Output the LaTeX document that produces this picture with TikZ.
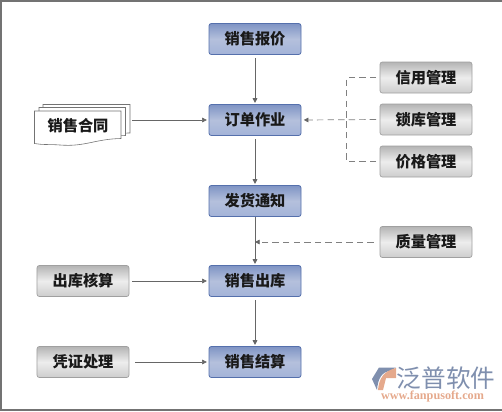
\documentclass[tikz,border=0pt]{standalone}
\usepackage{fontspec}
\usepackage{xcolor}
\usetikzlibrary{arrows.meta,positioning,calc}
\newfontfamily\cjk{Noto Sans CJK SC}
\newfontfamily\urlfont{Liberation Serif}
\definecolor{blueedge}{HTML}{5570AC}
\definecolor{bluemid}{HTML}{B4C0DC}
\definecolor{bluetop}{HTML}{7F94C4}
\definecolor{bluelow}{HTML}{A3B3D8}
\definecolor{grayedge}{HTML}{A0A0A0}
\definecolor{graytop}{HTML}{B4B4B4}
\definecolor{graymid}{HTML}{EDEDED}
\definecolor{graylow}{HTML}{CDCDCD}
\definecolor{linegray}{HTML}{666666}
\definecolor{logoblue}{HTML}{7F8FAE}
\definecolor{logoorange}{HTML}{E5A98C}
\tikzset{
  box/.style={minimum width=2.76cm, minimum height=0.93cm, inner sep=0pt, rounded corners=2pt, font=\cjk\bfseries\fontsize{13}{15}\selectfont, text=black!90},
  bluebox/.style={box, draw=blueedge, line width=0.7pt, top color=bluetop, bottom color=bluelow, middle color=bluemid},
  graybox/.style={box, draw=grayedge, line width=0.6pt, top color=graytop, bottom color=graylow, middle color=graymid},
  flow/.style={draw=linegray, line width=0.5pt, -{Triangle[length=4pt,width=4pt]}},
  dashline/.style={draw=black!50, line width=0.6pt, dash pattern=on 5.5pt off 3.5pt},
  sheet/.style={draw=black!55, line width=0.5pt, fill=white}
}
\begin{document}
\begin{tikzpicture}[x=0.03cm,y=-0.03cm]
\useasboundingbox (0,0) rectangle (502,411);
\draw[black!55, line width=1.6pt] (0.8,409.7) -- (0.8,0.8) -- (502,0.8);
\draw[black!55, line width=1.6pt] (0,409.7) -- (502,409.7);
% middle column
\node[bluebox] (baojia) at (255,39) {销售报价};
\node[bluebox] (dingdan) at (255,120) {订单作业};
\node[bluebox] (tongzhi) at (255,201) {发货通知};
\node[bluebox] (chuku) at (255,281) {销售出库};
\node[bluebox] (jiesuan) at (255,362) {销售结算};
% right column
\node[graybox] (xinyong) at (426,77.5) {信用管理};
\node[graybox] (suoku) at (426,119.5) {锁库管理};
\node[graybox] (jiage) at (426,161.5) {价格管理};
\node[graybox] (zhiliang) at (426,242) {质量管理};
% left column
\node[graybox] (hesuan) at (83,281) {出库核算};
\node[graybox] (pingzheng) at (83,362) {凭证处理};
% stacked sheets
\draw[sheet] (43,104.5) -- (130,104.5) -- (130,133) .. controls (110,133) and (95,138) .. (72,137) -- (43,135) -- cycle;
\draw[sheet] (39,107.5) -- (125.5,107.5) -- (125.5,135.5) .. controls (105,136) and (90,141) .. (68,140) -- (39,138) -- cycle;
\draw[sheet] (34.5,111) -- (121,111) -- (121,138.5) .. controls (95,139) and (85,147) .. (60,145) .. controls (50,144.2) and (42,145) .. (34.5,143.5) -- cycle;
\node[box, minimum width=2.5cm, minimum height=0.8cm] (hetong) at (78,126) {销售合同};
\coordinate (hetongout) at (132,120);
% connectors
\draw[flow, shorten <=3pt, shorten >=1pt] (baojia) -- (dingdan);
\draw[flow, shorten <=3pt, shorten >=1pt] (dingdan) -- (tongzhi);
\draw[flow, shorten <=3pt, shorten >=1pt] (chuku) -- (jiesuan);
\draw[flow, shorten >=1pt] (tongzhi.south) -- (chuku.north);
\draw[flow, shorten >=1.5pt] (hetongout) -- (dingdan.west);
\draw[flow, shorten <=2.5pt, shorten >=1.5pt] (hesuan) -- (chuku);
\draw[flow, shorten <=5pt, shorten >=1.5pt] (pingzheng) -- (jiesuan);
% dashed feeds
\coordinate (zhugan) at (346.5,119.5);
\coordinate (zhiliangin) at (255,242);
\draw[dashline, shorten <=3pt] (xinyong.west) -| (zhugan);
\draw[dashline, shorten <=3pt] (jiage.west) -| (zhugan);
\draw[dashline, shorten <=3pt, shorten >=2pt, -{Triangle[length=4pt,width=4pt,color=linegray]}] (suoku.west) -- (dingdan.east);
\draw[dashline, shorten <=5pt, -{Triangle[length=4pt,width=4pt,color=linegray]}] (zhiliang.west) -- (zhiliangin);
% logo
\fill[logoblue] (372,379) -- (379,367.5) -- (396,367.5) -- (390,371) .. controls (382,372) and (378,378) .. (377,390) -- cycle;
\fill[logoorange] (396,368) -- (396,378) -- (386,378) -- (383,390) -- (378,390) .. controls (379,378) and (384,371) .. (396,368) -- cycle;
\node[inner sep=0pt, text=logoblue, font=\cjk\fontsize{21}{24}\selectfont] (logoname) at (446,378.5) {泛普软件};
\node[inner sep=0pt, text=logoorange, font=\urlfont\bfseries\fontsize{10.4}{12}\selectfont] (logourl) at (432.5,396) {www.fanpusoft.com};
\end{tikzpicture}
\end{document}
